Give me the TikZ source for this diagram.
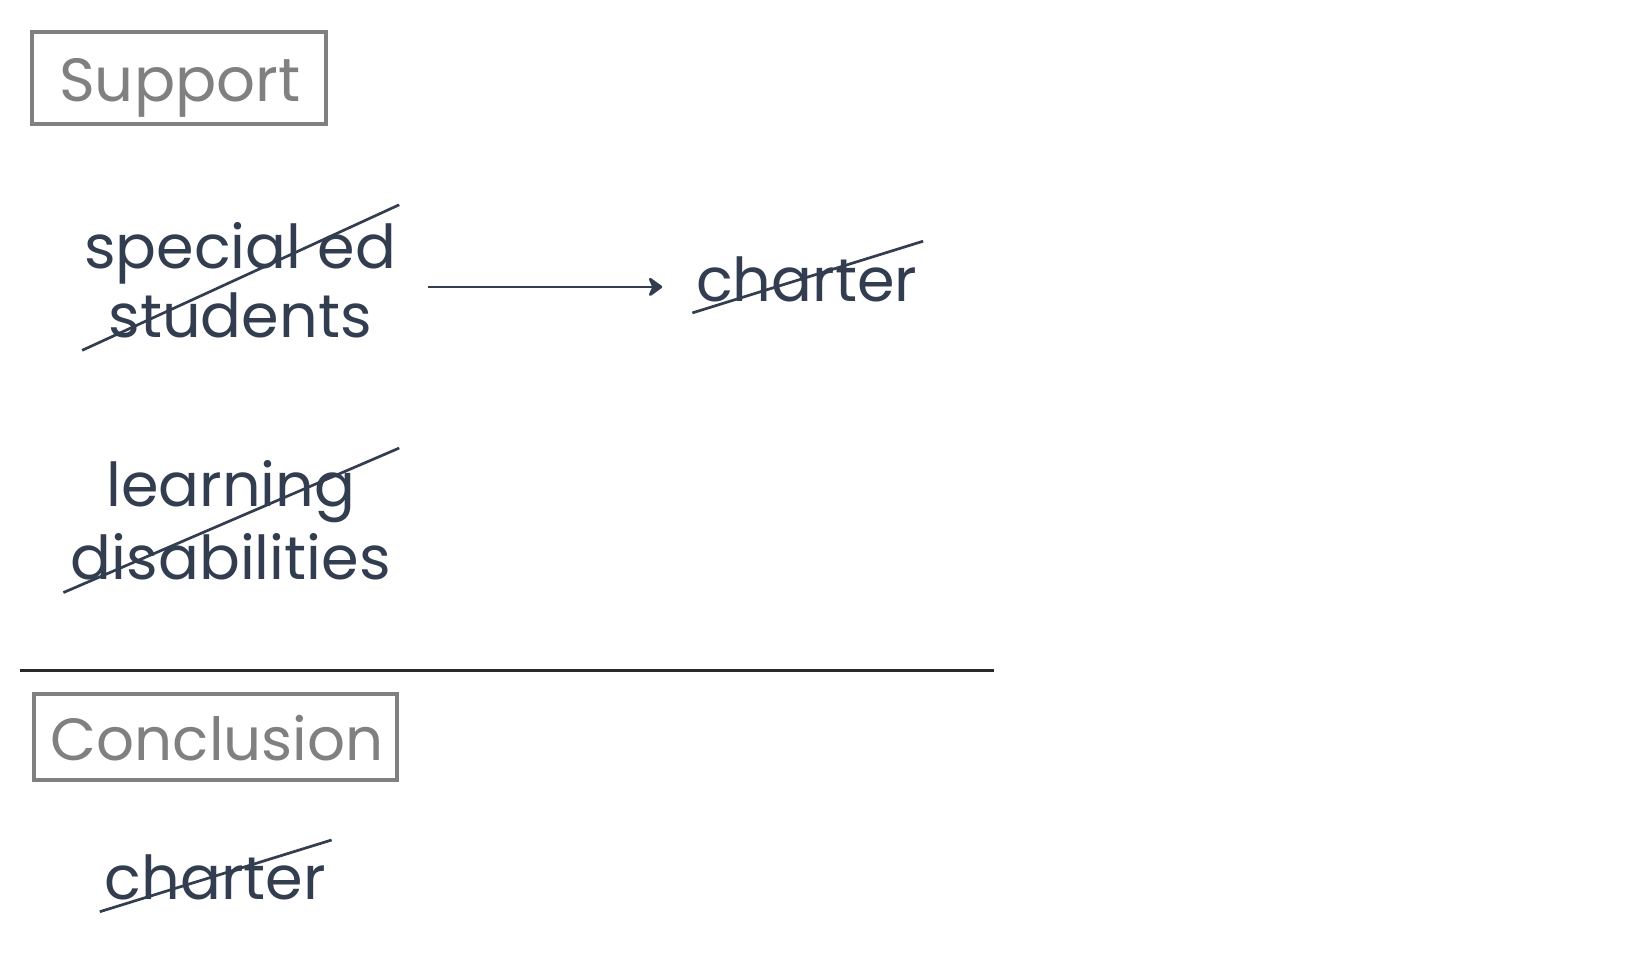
\documentclass[tikz,border=0pt]{standalone}
\usepackage{fontspec}
\setmainfont{Poppins}
\usetikzlibrary{arrows.meta}
\definecolor{ink}{HTML}{333D50}
\definecolor{boxgray}{HTML}{808080}
\definecolor{rulec}{HTML}{2A2A2A}
\tikzset{
  txt/.style={text=ink, inner sep=0pt, font=\fontsize{60.5}{72}\selectfont, align=center},
  hdrtxt/.style={text=boxgray, inner sep=0pt, font=\fontsize{61}{72}\selectfont},
  hdrbox/.style={draw=boxgray, line width=4pt},
  strike/.style={draw=ink, line width=2.7pt},
  tipstyle/.tip={Stealth[length=16pt,width=23pt,inset=5pt,round]},
  conn/.style={draw=ink, line width=2.8pt, -tipstyle},
  rule/.style={draw=rulec, line width=3pt}
}
\begin{document}
\begin{tikzpicture}[x=1.0396pt,y=-1.0396pt]
\useasboundingbox (0,0) rectangle (1566,922.5);
\fill[white] (0,0) rectangle (1566,922.5);
% header boxes
\draw[hdrbox] (31,31) rectangle (314,119);
\node[hdrtxt, anchor=base] (sup) at (173,98) {Support};
\draw[hdrbox] (33,668) rectangle (382,750);
\node[hdrtxt, anchor=base, font=\fontsize{59.5}{72}\selectfont] (con) at (209,732) {Conclusion};
% text nodes
\node[txt, anchor=base] (sped1) at (231,258) {special ed};
\node[txt, anchor=base] (sped2) at (231,325) {students};
\node[txt, anchor=base] (ch1) at (776,290) {charter};
\node[txt, anchor=base] (ld1) at (222,487) {learning};
\node[txt, anchor=base] (ld2) at (222,557) {disabilities};
\node[txt, anchor=base] (ch2) at (207,865) {charter};
% strike lines
\draw[strike] (79,337) -- (384,197);
\draw[strike] (666,301) -- (888,232);
\draw[strike] (61,570) -- (384,431);
\draw[strike] (96,877) -- (319,808);
% arrow
\coordinate (a0) at (412,276);
\coordinate (a1) at (637,276);
\draw[conn] (a0) -- (a1);
% rule
\draw[rule] (19,645) -- (956,645);
\end{tikzpicture}
\end{document}
